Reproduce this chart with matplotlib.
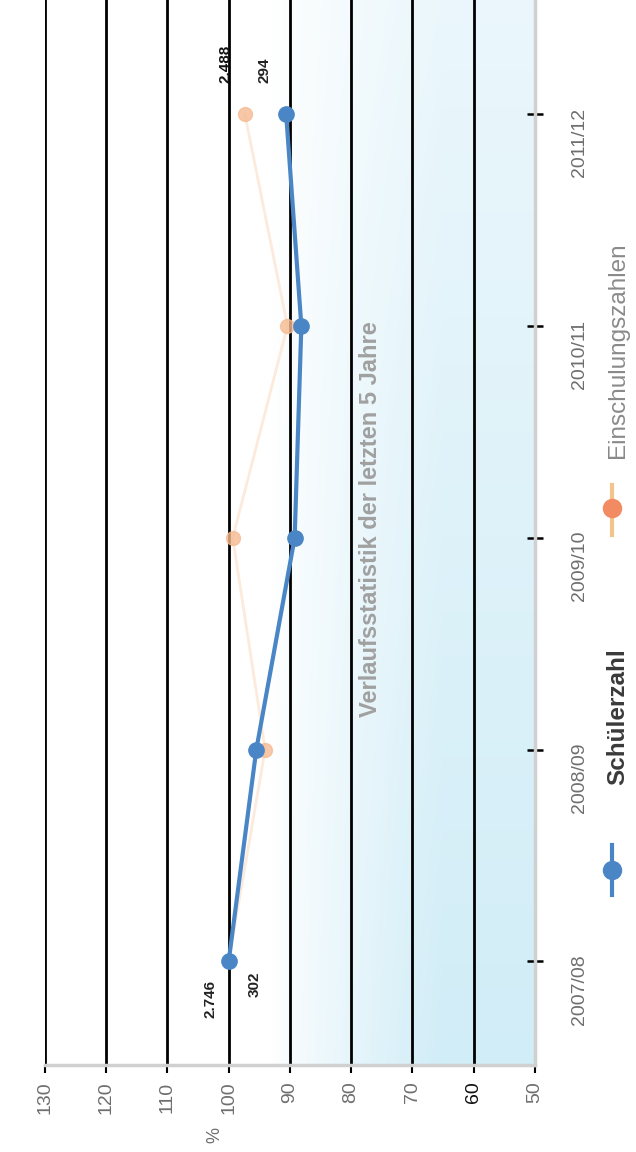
import matplotlib
matplotlib.use("Agg")
import matplotlib.pyplot as plt
from matplotlib.lines import Line2D
from matplotlib.transforms import ScaledTranslation
import numpy as np

plt.rcParams['font.family'] = ['Liberation Sans Narrow', 'Liberation Sans', 'DejaVu Sans']

# School years and absolute counts
jahre = ['2007/08', '2008/09', '2009/10', '2010/11', '2011/12']
schueler = [2746, 2622, 2450, 2420, 2488]
einschulung = [302, 284, 300, 273, 294]

# Percent relative to the first year
schueler_pct = np.array(schueler) / schueler[0] * 100
einschulung_pct = np.array(einschulung) / einschulung[0] * 100

ticks_pct = [130, 120, 110, 100, 90, 80, 70, 60, 50]

BLUE = '#4a86c6'
ORANGE = '#f6bb92'
GREY = '#6e6e6e'

fig = plt.figure(figsize=(6.36, 11.52), dpi=100)
ax = fig.add_axes([0.0708, 0.0755, 0.770, 0.9245])

ax.set_xlim(130, 50)
ax.set_ylim(-0.49, 4.54)

# blue fade in the lower value range, stronger towards the older years
xs = np.linspace(130, 50, 300)
ys = np.linspace(-0.49, 4.54, 300)
X, Y = np.meshgrid(xs, ys)
strength = np.clip((93 - X) / 28, 0, 1) ** 0.8 * (0.45 + 0.55 * np.clip(1 - (Y + 0.49) / 5.0, 0, 1))
img = np.ones((len(ys), len(xs), 4))
img[..., 0] = 0.82
img[..., 1] = 0.93
img[..., 2] = 0.97
img[..., 3] = strength
ax.imshow(img, extent=[130, 50, -0.49, 4.54], origin='lower', aspect='auto', zorder=0)

# gridlines
for v in ticks_pct[:-1]:
    ax.axvline(v, color='black', lw=2.0, zorder=1)

# series
ax.plot(einschulung_pct, range(len(jahre)), color='#fcebdc', lw=2, zorder=2)
ax.plot(einschulung_pct, range(len(jahre)), 'o', color=ORANGE, ms=10, alpha=0.8, zorder=3)
ax.plot(schueler_pct, range(len(jahre)), color=BLUE, lw=3, zorder=4)
ax.plot(schueler_pct, range(len(jahre)), 'o', color=BLUE, ms=11, zorder=5)

# value labels for first and last year
ax.text(103.0, -0.18, f"{schueler[0]:,}".replace(',', '.'), rotation=90, ha='center', va='center',
        fontsize=11, fontweight='bold', color='#222222', zorder=6)
ax.text(95.8, -0.11, str(einschulung[0]), rotation=90, ha='center', va='center',
        fontsize=11, fontweight='bold', color='#222222', zorder=6)
ax.text(100.6, 4.24, f"{schueler[-1]:,}".replace(',', '.'), rotation=90, ha='center', va='center',
        fontsize=11, fontweight='bold', color='#111111', zorder=6)
ax.text(94.1, 4.21, str(einschulung[-1]), rotation=90, ha='center', va='center',
        fontsize=11, fontweight='bold', color='#222222', zorder=6)

# value axis along the bottom
ax.set_xticks(ticks_pct)
ax.set_xticklabels([str(t) for t in ticks_pct], rotation=90, fontsize=14, color=GREY)
ax.get_xticklabels()[7].set_color('#111111')
ax.tick_params(axis='x', direction='out', length=6, width=1.5, color='black', pad=6)

# year axis on the right, labels sit a little below their ticks
ax.yaxis.tick_right()
ax.set_yticks(range(len(jahre)))
ax.set_yticklabels(jahre, rotation=90, va='center', fontsize=14, color=GREY)
ax.tick_params(axis='y', direction='inout', length=12, width=1.8, color='black', pad=20)
shift = ScaledTranslation(0, -0.28, fig.dpi_scale_trans)
for lbl in ax.get_yticklabels():
    lbl.set_transform(lbl.get_transform() + shift)

for side in ['top', 'left']:
    ax.spines[side].set_visible(False)
for side in ['bottom', 'right']:
    ax.spines[side].set_color('#d0d0d0')
    ax.spines[side].set_linewidth(2.5)

fig.text(0.338, 0.015, '%', rotation=90, ha='center', va='center', fontsize=13, color=GREY)

# title
fig.text(0.582, 0.549, 'Verlaufsstatistik der letzten 5 Jahre', rotation=90, ha='center', va='center',
         fontsize=17, fontweight='bold', color='#a0a0a0')

# legend
fig.add_artist(Line2D([0.962, 0.962], [1 - 895 / 1152, 1 - 845 / 1152], color=BLUE, lw=3,
                      transform=fig.transFigure))
fig.add_artist(Line2D([0.962], [1 - 870 / 1152], marker='o', color=BLUE, ms=13,
                      transform=fig.transFigure))
fig.text(0.972, 1 - 717 / 1152, 'Schülerzahl', rotation=90, ha='center', va='center',
         fontsize=17.5, fontweight='bold', color='#3a3a3a')
fig.add_artist(Line2D([0.962, 0.962], [1 - 535 / 1152, 1 - 485 / 1152], color='#f2c48e', lw=3,
                      transform=fig.transFigure))
fig.add_artist(Line2D([0.962], [1 - 508 / 1152], marker='o', color='#f28a62', ms=13,
                      transform=fig.transFigure))
fig.text(0.972, 1 - 350 / 1152, 'Einschulungszahlen', rotation=90, ha='center', va='center',
         fontsize=17.5, color='#8a8a8a')

fig.savefig('out.png', dpi=100)
